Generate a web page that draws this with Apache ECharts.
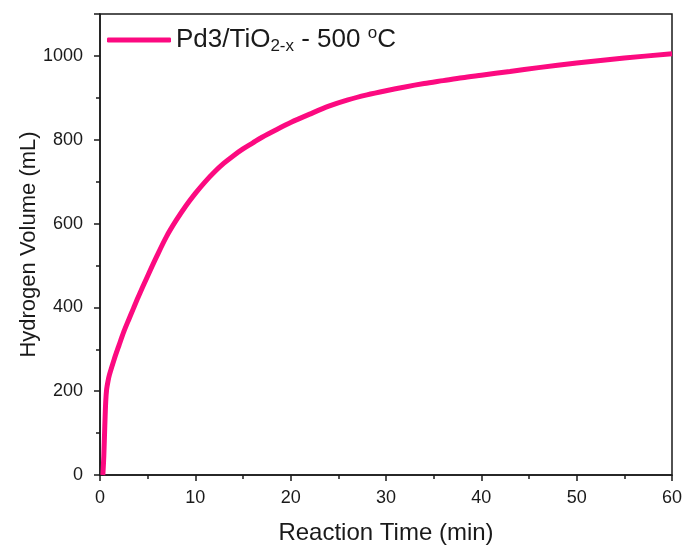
<!DOCTYPE html>
<html>
<head>
<meta charset="utf-8">
<script src="https://cdn.jsdelivr.net/npm/echarts@6/dist/echarts.min.js"></script>
<style>html,body{margin:0;padding:0;background:#fff}#c{width:688px;height:550px}</style>
</head>
<body>
<div id="c"></div>
<script>
const seriesName = 'Pd3/TiO2-x - 500 oC';
const timeMin = [0.3, 0.4, 0.5, 0.6, 0.7, 0.85, 1.0, 1.5, 2.0, 2.5, 3.0, 3.5, 4.0, 5.0, 6.0, 7.0, 8.0, 9.0, 10.0, 11.0, 12.0, 13.0, 14.0, 15.0, 16.0, 17.0, 18.5, 20.0, 22.0, 24.0, 26.0, 28.0, 30.0, 32.0, 34.0, 36.0, 38.0, 40.0, 43.0, 46.0, 50.0, 55.0, 60.0];
const volumeML = [0, 45, 115, 175, 205, 225, 240, 277, 310, 342, 370, 397, 424, 475, 524, 570, 608, 642, 672, 699, 723, 744, 762, 778, 792, 806, 824, 841, 861, 880, 895, 907, 917, 926, 934, 941, 948, 954, 963, 972, 983, 995, 1005];
const xTicks = [0, 10, 20, 30, 40, 50, 60];
const yTicks = [0, 200, 400, 600, 800, 1000];

const data = timeMin.map((t, i) => [t, volumeML[i]]);
const font = 'Liberation Sans, Arial, sans-serif';
const ink = '#1a1a1a';
const chart = echarts.init(document.getElementById('c'));
chart.setOption({
  animation: false,
  backgroundColor: '#fff',
  grid: { left: 100, right: 16, top: 14, bottom: 74, show: true, borderColor: ink, borderWidth: 1.5 },
  legend: {
    left: 107, top: 25, padding: 0, itemWidth: 64, itemHeight: 5, icon: 'roundRect', itemGap: 6,
    formatter: () => '{a|Pd3/TiO}{sub|2-x}{a| - 500 }{sup|o}{a|C}',
    textStyle: {
      rich: {
        a: { fontSize: 26, fontFamily: font, color: ink },
        sub: { fontSize: 17, fontFamily: font, color: ink, verticalAlign: 'bottom', padding: [13, 0, 0, 0] },
        sup: { fontSize: 17, fontFamily: font, color: ink, verticalAlign: 'top', padding: [0, 0, 11, 0] }
      }
    },
    data: [seriesName]
  },
  xAxis: {
    type: 'value', min: xTicks[0], max: xTicks[xTicks.length - 1], interval: 10,
    name: 'Reaction Time (min)', nameLocation: 'middle', nameGap: 46, nameMoveOverlap: false,
    nameTextStyle: { fontSize: 24, fontFamily: font, color: ink },
    axisLine: { lineStyle: { color: ink, width: 1.5 } },
    axisTick: { inside: false, length: 6, lineStyle: { color: ink, width: 1.5 } },
    minorTick: { show: true, splitNumber: 2, length: 4, lineStyle: { color: ink, width: 1.5 } },
    axisLabel: { fontSize: 18, fontFamily: font, color: ink, margin: 14 },
    splitLine: { show: false }
  },
  yAxis: {
    type: 'value', min: 0, max: 1100, interval: 200,
    name: 'Hydrogen Volume (mL)', nameLocation: 'middle', nameGap: 60, nameMoveOverlap: false,
    nameTextStyle: { fontSize: 22, fontFamily: font, color: ink },
    axisLine: { show: true, lineStyle: { color: ink, width: 1.5 } },
    axisTick: { show: true, inside: false, length: 6, lineStyle: { color: ink, width: 1.5 } },
    minorTick: { show: true, splitNumber: 2, length: 4, lineStyle: { color: ink, width: 1.5 } },
    axisLabel: { fontSize: 18, fontFamily: font, color: ink, margin: 17,
      formatter: v => yTicks.includes(v) ? String(v) : '' },
    splitLine: { show: false }
  },
  series: [{
    name: seriesName, type: 'line', data: data, showSymbol: false, symbol: 'none',
    smooth: 0.3,
    lineStyle: { color: '#fc0a80', width: 5 }, itemStyle: { color: '#fc0a80' }
  }]
});
</script>
</body>
</html>
